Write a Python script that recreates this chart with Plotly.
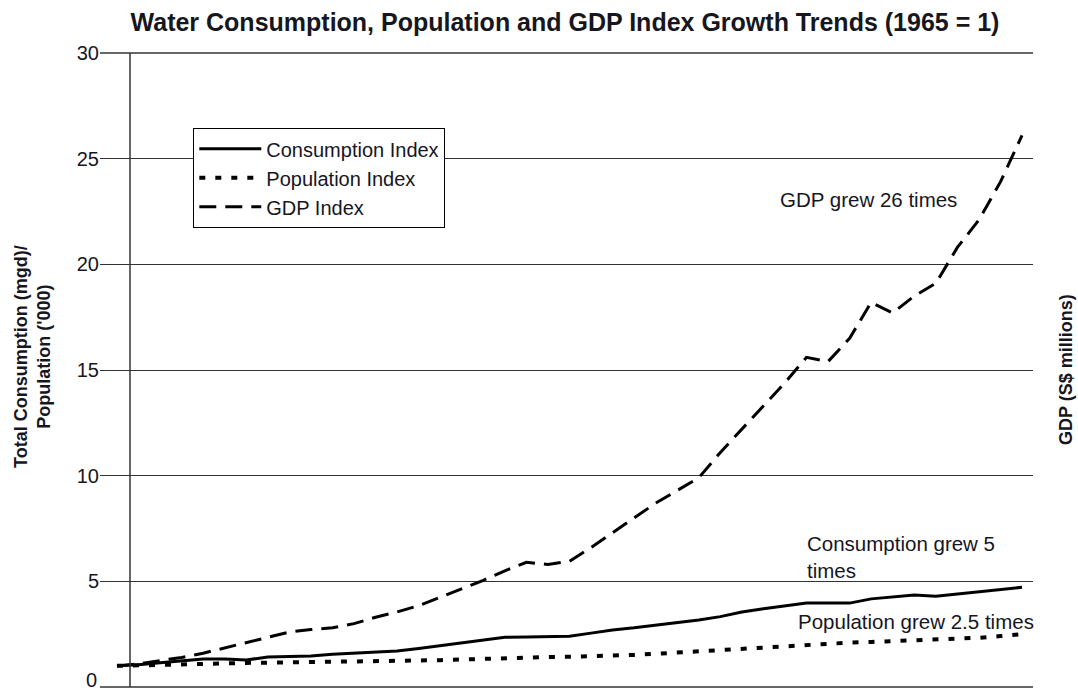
import plotly.graph_objects as go

years = list(range(1965, 2008))

consumption_index = [1.0, 1.05, 1.15, 1.25, 1.33, 1.33, 1.28, 1.42, 1.44, 1.47,
                     1.55, 1.6, 1.65, 1.7, 1.82, 1.95, 2.1, 2.2, 2.35, 2.37,
                     2.37, 2.4, 2.55, 2.7, 2.8, 2.92, 3.03, 3.17, 3.33, 3.55,
                     3.7, 3.85, 3.98, 3.97, 3.97, 4.17, 4.27, 4.35, 4.3, 4.4,
                     4.5, 4.6, 4.72]

population_index = [1.0, 1.03, 1.06, 1.08, 1.1, 1.12, 1.14, 1.15, 1.16, 1.17,
                    1.18, 1.19, 1.2, 1.22, 1.24, 1.27, 1.3, 1.34, 1.37, 1.4,
                    1.42, 1.43, 1.45, 1.48, 1.52, 1.57, 1.63, 1.7, 1.76, 1.83,
                    1.9, 1.96, 2.02, 2.06, 2.1, 2.13, 2.17, 2.2, 2.22, 2.26,
                    2.33, 2.41, 2.5]

gdp_index = [1.0, 1.1, 1.25, 1.4, 1.6, 1.85, 2.1, 2.35, 2.6, 2.72,
             2.8, 3.0, 3.3, 3.55, 3.85, 4.25, 4.65, 5.05, 5.5, 5.9,
             5.8, 5.95, 6.6, 7.3, 8.0, 8.7, 9.3, 9.9, 11.1, 12.2,
             13.3, 14.4, 15.6, 15.4, 16.5, 18.2, 17.7, 18.5, 19.1, 20.8,
             22.1, 23.9, 26.1]

y_ticks = [0, 5, 10, 15, 20, 25, 30]
y_labels = ["0", "5", "10", "15", "20", "25", "30"]

TXT = "#16161f"
FONT = "Liberation Sans, Arial, sans-serif"

W, H = 1078, 691
PW, PH = 933, 634

fig = go.Figure()
fig.add_trace(go.Scatter(x=years, y=consumption_index, mode="lines",
                         name="Consumption Index",
                         line=dict(color="black", width=3)))
fig.add_trace(go.Scatter(x=years, y=population_index, mode="lines",
                         name="Population Index",
                         line=dict(color="black", width=4, dash="6px,10px")))
fig.add_trace(go.Scatter(x=years, y=gdp_index, mode="lines",
                         name="GDP Index",
                         line=dict(color="black", width=3, dash="17px,9px")))

# the bottom label ("0") is placed as an annotation so it stays inside the page
axis_text = [("" if v == 0 else t) for v, t in zip(y_ticks, y_labels)]

fig.update_layout(
    width=W, height=H,
    margin=dict(l=100, r=W - 100 - PW, t=53, b=H - 53 - PH, autoexpand=False),
    paper_bgcolor="white", plot_bgcolor="white",
    font=dict(family=FONT, color=TXT, size=20),
    title=dict(text="<b>Water Consumption, Population and GDP Index Growth Trends (1965 = 1)</b>",
               x=565 / W, xanchor="center", xref="container",
               y=1 - 22 / H, yanchor="middle", yref="container",
               font=dict(size=25, family=FONT, color=TXT)),
    xaxis=dict(range=[1965 - 17 / 21.55, 2007 + 11 / 21.55],
               showticklabels=False, showgrid=False, zeroline=False,
               showline=False, ticks="", automargin=False),
    yaxis=dict(range=[0, 30], tickvals=y_ticks, ticktext=axis_text, showgrid=True,
               gridcolor="#333333", gridwidth=1.3, zeroline=False,
               showline=False, ticks="", ticklabelstandoff=0,
               ticklabeloverflow="allow", automargin=False,
               tickfont=dict(size=20, color=TXT)),
    legend=dict(x=(193 - 100) / PW, y=(687 - 128) / PH,
                xanchor="left", yanchor="top",
                bgcolor="white", bordercolor="black", borderwidth=1.3,
                itemwidth=62,
                font=dict(size=20, color=TXT), tracegroupgap=0),
    showlegend=True,
)

fig.add_annotation(text=y_labels[0], x=0, y=0, xref="paper", yref="paper",
                   xanchor="right", yanchor="bottom", xshift=-1, yshift=-6,
                   showarrow=False, font=dict(size=20, color=TXT))

# vertical axis line and frame lines at 0 and 30
fig.add_shape(type="line", xref="x domain", yref="paper",
              x0=30 / PW, x1=30 / PW, y0=0, y1=1,
              line=dict(color="#333333", width=1.5))
for yy in (0, 1):
    fig.add_shape(type="line", xref="paper", yref="paper",
                  x0=0, x1=1, y0=yy, y1=yy,
                  line=dict(color="#333333", width=1.5))

annots = [
    dict(text="GDP grew 26 times", x=678 / PW, y=(687 - 199) / PH),
    dict(text="Consumption grew 5<br>times", x=705 / PW, y=(687 - 557) / PH),
    dict(text="Population grew 2.5 times", x=696 / PW, y=(687 - 621) / PH),
]
for a in annots:
    fig.add_annotation(text=a["text"], x=a["x"], y=a["y"], xref="paper", yref="paper",
                       xanchor="left", yanchor="middle", align="left",
                       showarrow=False, font=dict(size=20.5, color=TXT))

fig.add_annotation(text="<b>Total Consumption (mgd)/<br>Population ('000)</b>",
                   x=(32 - 100) / PW, y=(687 - 357) / PH, xref="paper", yref="paper",
                   xanchor="center", yanchor="middle", textangle=-90,
                   showarrow=False, font=dict(size=18, color=TXT))
fig.add_annotation(text="<b>GDP (S$ millions)</b>",
                   x=(1066 - 100) / PW, y=(687 - 370) / PH, xref="paper", yref="paper",
                   xanchor="center", yanchor="middle", textangle=-90,
                   showarrow=False, font=dict(size=18, color=TXT))

fig.write_html("out.html",
               config={"displayModeBar": False},
               post_script="document.body.style.margin='0';document.body.style.overflow='hidden';")
